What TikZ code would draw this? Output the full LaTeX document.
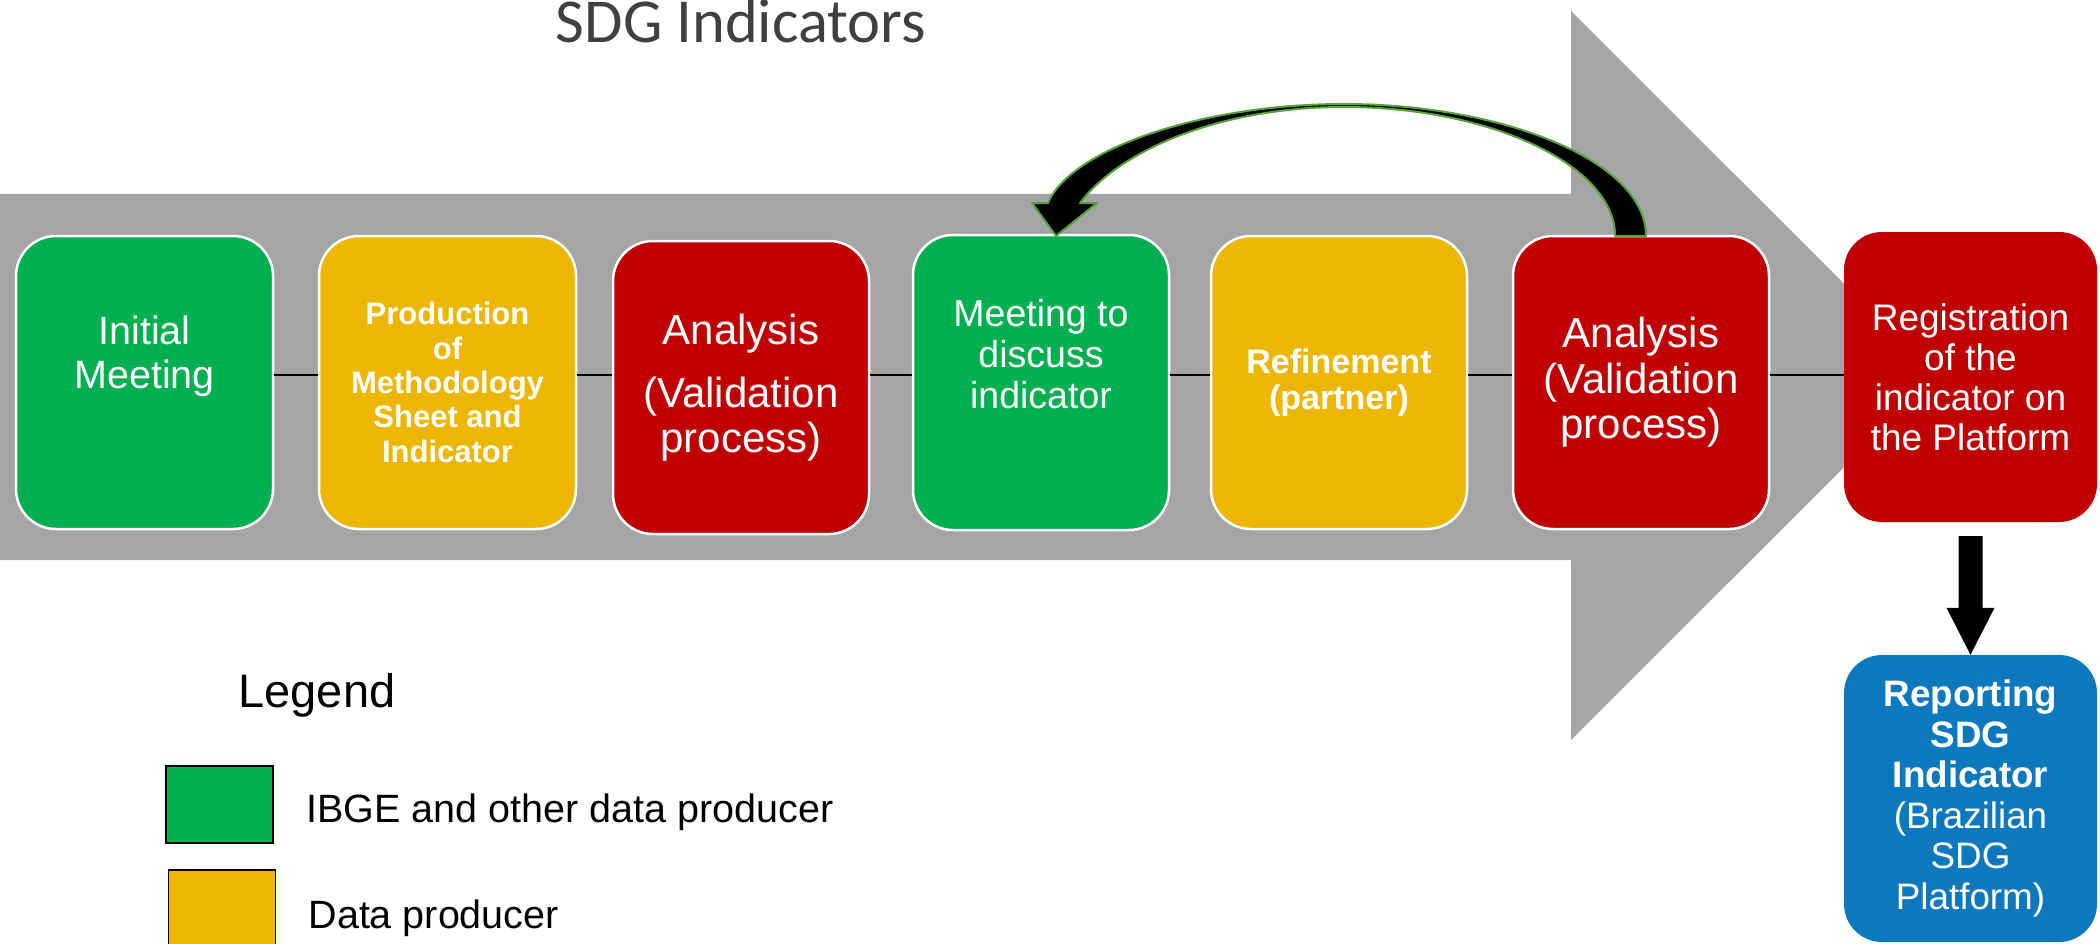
\documentclass[tikz,border=0pt]{standalone}
\usepackage{fontspec}
\setmainfont{Liberation Sans}
\newfontfamily\titlefont{Carlito}
\usetikzlibrary{calc}
\definecolor{bggray}{HTML}{A5A5A5}
\definecolor{boxgreen}{HTML}{00B050}
\definecolor{boxyellow}{HTML}{EDB600}
\definecolor{boxred}{HTML}{C00000}
\definecolor{boxblue}{HTML}{0C79BE}
\definecolor{titlegray}{HTML}{404040}
\definecolor{outlinegreen}{HTML}{56A33E}
\begin{document}
\begin{tikzpicture}[x=1pt,y=-1pt,
  stepbox/.style={rounded corners=40pt, draw=white, line width=2.5pt,
    minimum width=257pt, minimum height=293pt, inner sep=0pt,
    align=center, text=white},
  endbox/.style={rounded corners=38pt, draw=none,
    minimum width=253pt, inner sep=0pt, align=center, text=white},
  legsq/.style={draw=black, line width=1.5pt, minimum width=107pt,
    minimum height=77pt, inner sep=0pt},
  legtext/.style={anchor=base west, font=\fontsize{39.5}{44}\selectfont},
  link/.style={draw=black, line width=2pt}
]
\useasboundingbox (0,0) rectangle (2100,944);

% big gray process arrow
\fill[bggray] (0,194) -- (1571,194) -- (1571,11) -- (1936,375.5)
  -- (1571,740) -- (1571,560) -- (0,560) -- cycle;

% title
\node[anchor=base, font=\titlefont\fontsize{62.5}{62.5}\selectfont, text=titlegray]
  (title) at (741,43) {SDG Indicators};

% process boxes
\node[stepbox, fill=boxgreen, font=\fontsize{39.5}{44}\selectfont, text depth=60pt]
  (b1) at (144.5,382.5) {Initial\\Meeting};
\node[stepbox, fill=boxyellow, font=\bfseries\fontsize{31}{34.3}\selectfont]
  (b2) at (447.5,382.5) {Production\\of\\Methodology\\Sheet and\\Indicator};
\node[stepbox, fill=boxred, minimum width=256pt, font=\fontsize{42}{45}\selectfont]
  (b3) at (741,387.5) {Analysis\\[18pt](Validation\\process)};
\node[stepbox, fill=boxgreen, minimum width=256pt, minimum height=295pt,
  font=\fontsize{37.5}{41}\selectfont, text depth=57pt]
  (b4) at (1041,382.5) {Meeting to\\discuss\\indicator};
\node[stepbox, fill=boxyellow, minimum width=256pt, font=\bfseries\fontsize{34}{35.5}\selectfont]
  (b5) at (1339,382.5) {Refinement\\(partner)};
\node[stepbox, fill=boxred, minimum width=256pt, font=\fontsize{42}{45.5}\selectfont]
  (b6) at (1641,382.5) {Analysis\\(Validation\\process)};
\node[endbox, fill=boxred, minimum height=290pt, font=\fontsize{37}{40}\selectfont]
  (reg) at (1970.5,377) {Registration\\of the\\indicator on\\the Platform};
\node[endbox, fill=boxblue, minimum height=287pt, font=\fontsize{36.8}{40.6}\selectfont]
  (rep) at (1970.5,798.5) {\textbf{Reporting}\\\textbf{SDG}\\\textbf{Indicator}\\(Brazilian\\SDG\\Platform)};

% thin connectors along the row
\coordinate (row) at (0,375);
\draw[link] (b1.east |- row) -- (b2.west |- row);
\draw[link] (b2.east |- row) -- (b3.west |- row);
\draw[link] (b3.east |- row) -- (b4.west |- row);
\draw[link] (b4.east |- row) -- (b5.west |- row);
\draw[link] (b5.east |- row) -- (b6.west |- row);
\draw[link] (b6.east |- row) -- (reg.west |- row);

% curved feedback arrow (from b6 back to b4)
\filldraw[fill=black, draw=outlinegreen, line width=2pt, line join=round]
  (1615,236) .. controls (1615,165) and (1490,107) .. (1344,107)
  .. controls (1220,107) and (1120,150) .. (1080,203)
  -- (1097,203) -- (1056,236) -- (1032,203) -- (1048,203)
  .. controls (1070,150) and (1200,104) .. (1344,104)
  .. controls (1500,104) and (1646,160) .. (1646,236) -- cycle;

% block arrow down from registration to reporting
\fill[black] ($(reg.south)+(-12,14)$) -- ($(reg.south)+(12,14)$)
  -- ($(rep.north)+(12,-47)$) -- ($(rep.north)+(24,-47)$) -- (rep.north)
  -- ($(rep.north)+(-24,-47)$) -- ($(rep.north)+(-12,-47)$) -- cycle;

% legend
\node[anchor=base west, font=\fontsize{47}{47}\selectfont] (legend) at (235,707) {Legend};
\node[legsq, fill=boxgreen] (lg1) at (219.5,804.5) {};
\node[legsq, fill=boxyellow] (lg2) at (222,908.5) {};
\node[legtext] (lt1) at (303,822) {IBGE and other data producer};
\node[legtext] (lt2) at (305,928) {Data producer};
\end{tikzpicture}
\end{document}
